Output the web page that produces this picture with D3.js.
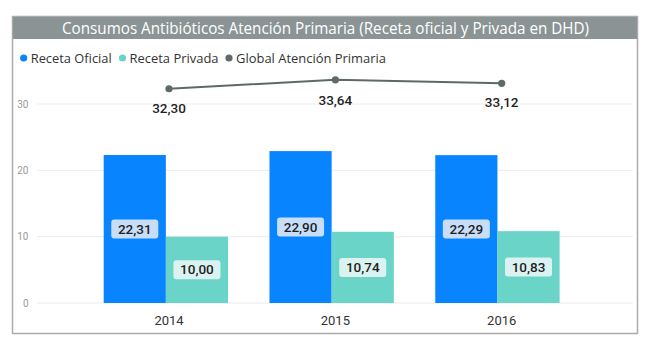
<!DOCTYPE html>
<html><head><meta charset="utf-8">
<script src="https://cdn.jsdelivr.net/npm/d3@7"></script>
<style>html,body{margin:0;padding:0;background:#fff;}svg{display:block;}</style>
</head><body>
<svg id="c" width="666" height="345"></svg>
<script>
const title = "Consumos Antibióticos Atención Primaria (Receta oficial y Privada en DHD)";
const years = ["2014", "2015", "2016"];
const recetaOficial = [22.31, 22.90, 22.29];
const recetaPrivada = [10.00, 10.74, 10.83];
const globalAP = [32.30, 33.64, 33.12];
const seriesNames = ["Receta Oficial", "Receta Privada", "Global Atención Primaria"];
const yTicks = [0, 10, 20, 30];

const colors = {oficial: "#0984FF", privada: "#6BD4C8", global: "#5F6969"};
const fmt = v => v.toFixed(2).replace(".", ",");

const svg = d3.select("#c");

// frame
svg.append("rect").attr("x", 12.5).attr("y", 16.5).attr("width", 625).attr("height", 317)
  .attr("fill", "#fff").attr("stroke", "#ababab").attr("stroke-width", 1.5);
svg.append("rect").attr("x", 13).attr("y", 17).attr("width", 624).attr("height", 22).attr("fill", "#8B9494");
svg.append("text").attr("x", 325.5).attr("y", 33.5).attr("text-anchor", "middle")
  .attr("font-family", "'Open Sans', sans-serif").attr("font-size", 16).attr("fill", "#fff")
  .attr("textLength", 527).attr("lengthAdjust", "spacingAndGlyphs").text(title);

// legend
const legendX = [23.7, 122.5, 229];
const legendW = [81, 89, 150];
const legendC = [colors.oficial, colors.privada, colors.global];
const lg = svg.append("g");
seriesNames.forEach((n, i) => {
  lg.append("circle").attr("cx", legendX[i]).attr("cy", 58).attr("r", 3.6).attr("fill", legendC[i]);
  lg.append("text").attr("x", legendX[i] + 7).attr("y", 62.8)
    .attr("font-family", "'Open Sans', sans-serif").attr("font-size", 13).attr("fill", "#333")
    .attr("textLength", legendW[i]).attr("lengthAdjust", "spacingAndGlyphs").text(n);
});

// scales
const y = d3.scaleLinear().domain([0, 30]).range([303, 104]);
const x = d3.scaleBand().domain(years).range([20.8, 642.5]).paddingInner(0.25).paddingOuter(0.5);
const xs = d3.scaleBand().domain(["oficial", "privada"]).range([0, x.bandwidth()]);
const xLine = d3.scalePoint().domain(years).range([169, 501.7]);

// gridlines + y tick labels
const grid = svg.append("g");
yTicks.forEach(t => {
  grid.append("line").attr("x1", 37).attr("x2", 633).attr("y1", y(t)).attr("y2", y(t))
    .attr("stroke", "#ececec").attr("stroke-width", 1);
  grid.append("text").attr("x", 28.5).attr("y", y(t) + 3.5).attr("text-anchor", "end")
    .attr("font-family", "Roboto, sans-serif").attr("font-size", 10).attr("fill", "#9a9a9a").text(t);
});

// bars
const data = years.map((yr, i) => ({yr, oficial: recetaOficial[i], privada: recetaPrivada[i], global: globalAP[i]}));
const bars = svg.append("g");
const labelFill = {oficial: "#C8DEF8", privada: "#DAF3F0"};
data.forEach(d => {
  ["oficial", "privada"].forEach(k => {
    const bx = x(d.yr) + xs(k), bw = xs.bandwidth();
    bars.append("rect").attr("x", bx).attr("y", y(d[k])).attr("width", bw).attr("height", y(0) - y(d[k]))
      .attr("fill", colors[k]);
    const cy = (y(d[k]) + y(0)) / 2, cx = bx + bw / 2;
    bars.append("rect").attr("x", cx - 23.5).attr("y", cy - 9.5).attr("width", 47).attr("height", 19)
      .attr("rx", 3).attr("fill", labelFill[k]);
    bars.append("text").attr("x", cx).attr("y", cy + 4.6).attr("text-anchor", "middle")
      .attr("font-family", "Roboto, sans-serif").attr("font-weight", 500).attr("font-size", 13.5)
      .attr("fill", "#1f1f1f").text(fmt(d[k]));
  });
});

// x axis labels
years.forEach(yr => {
  svg.append("text").attr("x", xLine(yr)).attr("y", 325).attr("text-anchor", "middle")
    .attr("font-family", "Roboto, sans-serif").attr("font-size", 13).attr("fill", "#333").text(yr);
});

// line
const line = d3.line().x(d => xLine(d.yr)).y(d => y(d.global));
svg.append("path").datum(data).attr("d", line).attr("fill", "none")
  .attr("stroke", colors.global).attr("stroke-width", 2);
const lineLabelDy = [24, 25, 24];
data.forEach((d, i) => {
  svg.append("circle").attr("cx", xLine(d.yr)).attr("cy", y(d.global)).attr("r", 3.6).attr("fill", colors.global);
  svg.append("text").attr("x", xLine(d.yr)).attr("y", y(d.global) + lineLabelDy[i]).attr("text-anchor", "middle")
    .attr("font-family", "Roboto, sans-serif").attr("font-weight", 500).attr("font-size", 13.5)
    .attr("fill", "#1f1f1f").text(fmt(d.global));
});
</script>
</body></html>
